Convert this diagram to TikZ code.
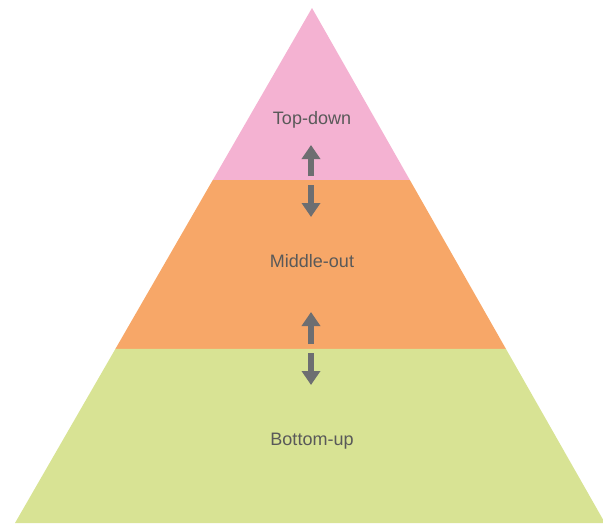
\documentclass[tikz,border=0pt]{standalone}
\usepackage{fontspec}
\setmainfont{Liberation Sans}
\usetikzlibrary{arrows.meta}
\usetikzlibrary{calc}
\definecolor{toppink}{RGB}{244,178,210}
\definecolor{midorange}{RGB}{247,167,104}
\definecolor{baselime}{RGB}{216,227,148}
\definecolor{arrowgray}{RGB}{109,110,113}
\definecolor{textgray}{RGB}{89,89,89}
\tikzstyle{layer} = [font=\fontsize{18}{21}\selectfont,text=textgray]
\tikzstyle{blockarrow} = [draw=arrowgray,line width=5.5pt,-{Triangle[width=18pt,length=14pt]}]

\begin{document}
\begin{tikzpicture}[x=1pt,y=-1pt]
\useasboundingbox (0,0) rectangle (603,523);
\coordinate (apex) at (312,8);
\coordinate (bl) at (15,523);
\coordinate (br) at (605,523);
% band edges
\coordinate (l1) at ($(apex)!0.334!(bl)$);
\coordinate (r1) at ($(apex)!0.334!(br)$);
\coordinate (l2) at ($(apex)!0.662!(bl)$);
\coordinate (r2) at ($(apex)!0.662!(br)$);
\fill[toppink] (apex) -- (l1) -- (r1) -- cycle;
\fill[midorange] (l1) -- (l2) -- (r2) -- (r1) -- cycle;
\fill[baselime] (l2) -- (bl) -- (br) -- (r2) -- cycle;
\node[layer] (topdown) at (312,119.5) {Top-down};
\node[layer] (middleout) at (312,261.5) {Middle-out};
\node[layer] (bottomup) at (312,441) {Bottom-up};
\coordinate (u1s) at (311,176);
\coordinate (u1e) at (311,145);
\coordinate (d1s) at (311,185);
\coordinate (d1e) at (311,217);
\coordinate (u2s) at (311,344);
\coordinate (u2e) at (311,312);
\coordinate (d2s) at (311,353);
\coordinate (d2e) at (311,385);
\draw[blockarrow] (u1s) -- (u1e);
\draw[blockarrow] (d1s) -- (d1e);
\draw[blockarrow] (u2s) -- (u2e);
\draw[blockarrow] (d2s) -- (d2e);
\end{tikzpicture}
\end{document}
